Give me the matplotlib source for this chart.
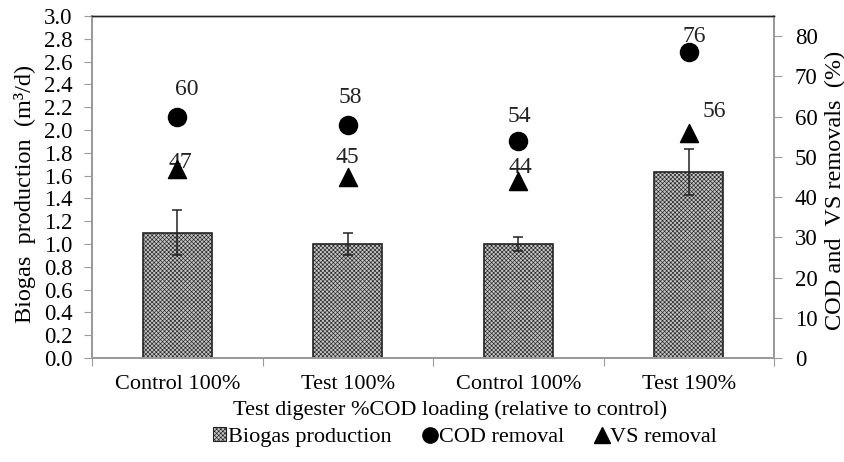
import matplotlib
matplotlib.use("Agg")
import matplotlib.pyplot as plt
from matplotlib.lines import Line2D
from matplotlib.patches import Patch

# values
categories = ["Control 100%", "Test 100%", "Control 100%", "Test 190%"]
biogas = [1.10, 1.00, 1.00, 1.63]
biogas_err = [0.20, 0.10, 0.06, 0.20]
cod_removal = [60, 58, 54, 76]
vs_removal = [47, 45, 44, 56]

# label offsets in pixels (dx, dy) relative to each marker
cod_label_offsets = [(10, 27), (3, 27), (1, 24), (5, 16)]
vs_label_offsets = [(3, 6), (0, 19), (2, 13), (26, 21)]

plt.rcParams["font.family"] = ["Liberation Serif", "DejaVu Serif"]
plt.rcParams["font.size"] = 16
plt.rcParams["hatch.linewidth"] = 0.45
plt.rcParams["hatch.color"] = "#5a5a5a"

AXIS_GREY = "#9a9a9a"
BAR_FACE = "#c4c4c4"
BAR_HATCH = "xxxxxxxx"

fig = plt.figure(figsize=(8.45, 4.62), dpi=100)
ax = fig.add_axes([92 / 845, 104 / 462, (774 - 92) / 845, (358 - 16) / 462])
ax2 = ax.twinx()

x = list(range(len(categories)))
bars = ax.bar(x, biogas, width=0.405, color=BAR_FACE, edgecolor="#222222",
              linewidth=1.2, hatch=BAR_HATCH, zorder=2)
ax.errorbar(x, biogas, yerr=biogas_err, fmt="none", ecolor="#222222",
            elinewidth=1.1, capsize=3.5, capthick=1.1, zorder=3)

ax.set_ylim(0, 3.0)
ax.set_yticks([i * 0.2 for i in range(16)])
ax.set_yticklabels([f"{i * 0.2:.1f}" for i in range(16)])
ax.set_xlim(-0.5, 3.5)
ax.set_xticks([-0.5, 0.5, 1.5, 2.5, 3.5])
ax.set_xticklabels([])
ax.set_xticks(x, minor=True)
ax.set_xticklabels(categories, minor=True)
ax.tick_params(axis="x", which="minor", length=0, pad=12)
ax.tick_params(axis="x", which="major", length=6, color=AXIS_GREY, direction="out")
ax.tick_params(axis="y", length=5.5, color=AXIS_GREY, pad=8.5, labelsize=16.5)
ax.set_ylabel("Biogas  production  (m³/d)", fontsize=17.5)
ax.yaxis.set_label_coords((36 - 92) / 682, 0.48)

ax2.set_ylim(0, 85)
ax2.set_yticks(range(0, 81, 10))
ax2.tick_params(axis="y", length=6, color=AXIS_GREY, pad=9, labelsize=16.5)
ax2.set_ylabel("COD and  VS removals  (%)", fontsize=17.5)
ax2.yaxis.set_label_coords((825 - 92) / 682, 0.49)

cod = ax2.scatter(x, cod_removal, marker="o", s=170, color="black", zorder=4)
vs = ax2.scatter(x, vs_removal, marker="^", s=170, color="black", zorder=4)

for xi, val, (dx, dy) in zip(x, cod_removal, cod_label_offsets):
    ax2.annotate(str(val), (xi, val), xytext=(dx, dy), textcoords="offset pixels",
                 ha="center", va="center", fontsize=17, color="#222222")
for xi, val, (dx, dy) in zip(x, vs_removal, vs_label_offsets):
    ax2.annotate(str(val), (xi, val), xytext=(dx, dy), textcoords="offset pixels",
                 ha="center", va="center", fontsize=17, color="#222222")

for a in (ax, ax2):
    for side in ("left", "right", "bottom"):
        a.spines[side].set_color(AXIS_GREY)
        a.spines[side].set_linewidth(1.3)
    a.spines["top"].set_color("#222222")
    a.spines["top"].set_linewidth(1.0)

fig.text(450 / 845, 1 - 410 / 462, "Test digester %COD loading (relative to control)",
         ha="center", va="center", fontsize=16)

handles = [
    Patch(facecolor=BAR_FACE, edgecolor="#222222", hatch=BAR_HATCH, linewidth=0.8),
    Line2D([], [], marker="o", linestyle="none", color="black", markersize=11),
    Line2D([], [], marker="^", linestyle="none", color="black", markersize=11),
]
fig.legend(handles, ["Biogas production", "COD removal", "VS removal"],
           loc="center", bbox_to_anchor=(465 / 845, 1 - 437 / 462), ncol=3,
           frameon=False, handlelength=0.6, handleheight=0.6, handletextpad=0.1,
           columnspacing=1.4, fontsize=16)

fig.savefig("out.png", dpi=100)
